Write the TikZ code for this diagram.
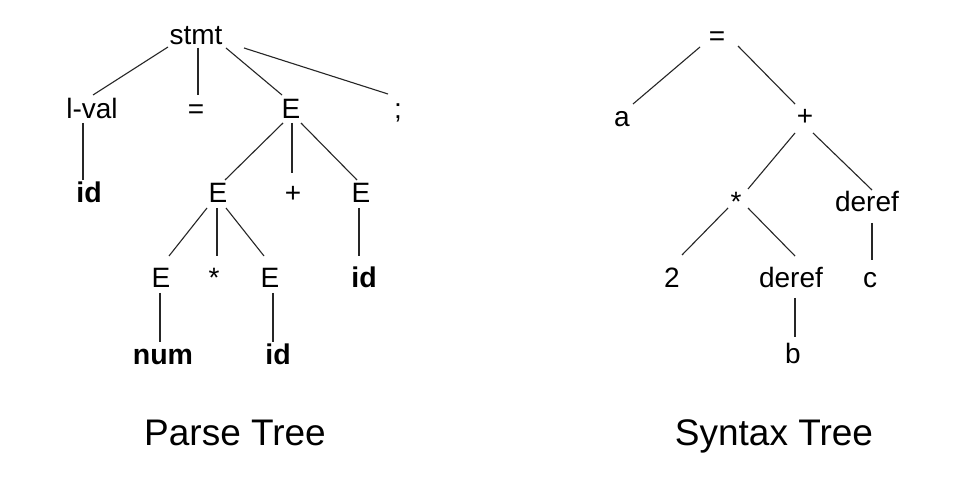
\documentclass[tikz,border=0pt]{standalone}
\usepackage{fontspec}
\setmainfont{Liberation Sans}
\begin{document}
\begin{tikzpicture}[x=1pt,y=-1pt,
  lbl/.style={anchor=base,inner sep=0pt,font=\fontsize{28}{30}\selectfont},
  bl/.style={anchor=base,inner sep=0pt,font=\fontsize{28.5}{30}\selectfont\bfseries},
  ttl/.style={anchor=base,inner sep=0pt,font=\fontsize{37}{40}\selectfont},
  edge/.style={line width=1.1pt,black!85}]
\useasboundingbox (0,0) rectangle (972,494);
\fill[white] (0,0) rectangle (972,494);
% Parse tree
\node[lbl] (stmt) at (196,45) {stmt};
\node[lbl] (lval) at (92,119) {l-val};
\node[lbl] (eqa) at (196,119) {=};
\node[lbl] (E1) at (291,119) {E};
\node[lbl] (semi) at (398,119) {;};
\node[bl] (id1) at (89,203) {id};
\node[lbl] (E2) at (218,203) {E};
\node[lbl] (plusa) at (293,203) {+};
\node[lbl] (E3) at (361,203) {E};
\node[lbl] (E4) at (161,288) {E};
\node[lbl] (stara) at (214,288) {*};
\node[lbl] (E5) at (270,288) {E};
\node[bl] (id2) at (364,288) {id};
\node[bl] (num) at (163,364) {num};
\node[bl] (id3) at (278,364) {id};
\draw[edge] ([shift={(-28,2)}]stmt.base) -- ([shift={(1,-24)}]lval.base);
\draw[edge] ([shift={(2,3)}]stmt.base) -- ([shift={(2,-24)}]eqa.base);
\draw[edge] ([shift={(30,3)}]stmt.base) -- ([shift={(-9,-24)}]E1.base);
\draw[edge] ([shift={(48,3)}]stmt.base) -- ([shift={(-10,-25)}]semi.base);
\draw[edge] ([shift={(-9,4)}]lval.base) -- ([shift={(-6,-23)}]id1.base);
\draw[edge] ([shift={(-8,4)}]E1.base) -- ([shift={(7,-23)}]E2.base);
\draw[edge] ([shift={(1,4)}]E1.base) -- ([shift={(-1,-30)}]plusa.base);
\draw[edge] ([shift={(10,4)}]E1.base) -- ([shift={(-4,-23)}]E3.base);
\draw[edge] ([shift={(-11,5)}]E2.base) -- ([shift={(8,-32)}]E4.base);
\draw[edge] ([shift={(-1,5)}]E2.base) -- ([shift={(3,-32)}]stara.base);
\draw[edge] ([shift={(8,5)}]E2.base) -- ([shift={(-6,-32)}]E5.base);
\draw[edge] ([shift={(-2,5)}]E3.base) -- ([shift={(-5,-32)}]id2.base);
\draw[edge] ([shift={(-1,5)}]E4.base) -- ([shift={(-3,-22)}]num.base);
\draw[edge] ([shift={(3,5)}]E5.base) -- ([shift={(-5,-22)}]id3.base);
% Syntax tree
\node[lbl] (eqb) at (717,46) {=};
\node[lbl] (a) at (622,127) {a};
\node[lbl] (plusb) at (805,126) {+};
\node[lbl] (starb) at (736,212) {*};
\node[lbl] (derefc) at (867,212) {deref};
\node[lbl] (two) at (672,288) {2};
\node[lbl] (derefb) at (791,288) {deref};
\node[lbl] (c) at (870,288) {c};
\node[lbl] (b) at (793,363) {b};
\draw[edge] ([shift={(-17,1)}]eqb.base) -- ([shift={(11,-23)}]a.base);
\draw[edge] ([shift={(21,0)}]eqb.base) -- ([shift={(-10,-22)}]plusb.base);
\draw[edge] ([shift={(-10,7)}]plusb.base) -- ([shift={(12,-23)}]starb.base);
\draw[edge] ([shift={(8,7)}]plusb.base) -- ([shift={(5,-22)}]derefc.base);
\draw[edge] ([shift={(-8,-4)}]starb.base) -- ([shift={(10,-33)}]two.base);
\draw[edge] ([shift={(12,-4)}]starb.base) -- ([shift={(4,-32)}]derefb.base);
\draw[edge] ([shift={(5,11)}]derefc.base) -- ([shift={(2,-28)}]c.base);
\draw[edge] ([shift={(4,10)}]derefb.base) -- ([shift={(2,-26)}]b.base);
% Titles
\node[ttl] (pt) at (235,445) {Parse Tree};
\node[ttl] (st) at (774,445) {Syntax Tree};
\end{tikzpicture}
\end{document}
